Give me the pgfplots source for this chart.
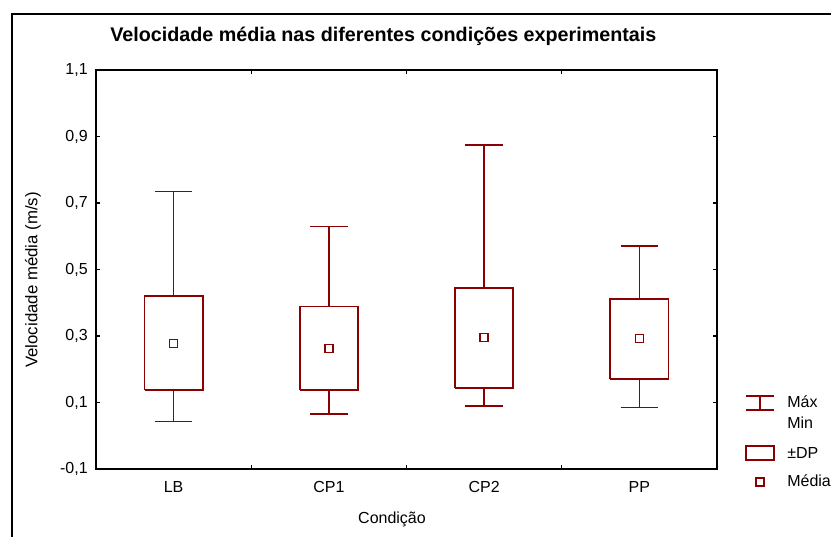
\documentclass[border=0pt]{standalone}
\usepackage{pgfplots}
\pgfplotsset{compat=1.18}
\usepackage{fontspec}
\setmainfont{Liberation Sans}
\definecolor{dred}{RGB}{139,0,0}
\begin{document}
\begin{tikzpicture}[x=0.75pt,y=0.75pt]
\useasboundingbox (0,0) rectangle (831,536);
\draw[line width=1.5pt] (12,-2) -- (12,522) -- (833,522);
\begin{axis}[
  at={(72pt,50.25pt)}, anchor=south west,
  scale only axis, width=465.75pt, height=299.25pt,
  xmin=-0.5, xmax=3.5, ymin=-0.1, ymax=1.1,
  axis line style={line width=0.9pt},
  tick style={black, line width=0.8pt},
  tick align=inside, major tick length=3pt,
  tick pos=both,
  unbounded coords=jump,
  xtick={0.5,1.5,2.5}, xticklabels={},
  extra x ticks={0,1,2,3},
  extra x tick labels={LB,CP1,CP2,PP},
  extra x tick style={major tick length=0pt, tick pos=bottom},
  ytick={-0.1,0.1,0.3,0.5,0.7,0.9,1.1},
  yticklabels={{-0,1},{0,1},{0,3},{0,5},{0,7},{0,9},{1,1}},
  ticklabel style={font=\fontsize{12}{14}\selectfont},
  yticklabel style={inner sep=0pt, xshift=-6pt},
  xticklabel style={inner sep=0pt, yshift=-9pt},
]
% whiskers (max/min)
\addplot[dred, line width=1.2pt, mark=none] coordinates {
 (-0.12,0.735) (0.12,0.735) (0,nan) (0,0.735) (0,0.421) (0,nan) (0,0.138) (0,0.043) (0,nan) (-0.12,0.043) (0.12,0.043) (0,nan)
 (0.88,0.629) (1.12,0.629) (1,nan) (1,0.629) (1,0.389) (1,nan) (1,0.138) (1,0.066) (1,nan) (0.88,0.066) (1.12,0.066) (1,nan)
 (1.88,0.874) (2.12,0.874) (2,nan) (2,0.874) (2,0.444) (2,nan) (2,0.143) (2,0.090) (2,nan) (1.88,0.090) (2.12,0.090) (2,nan)
 (2.88,0.571) (3.12,0.571) (3,nan) (3,0.571) (3,0.411) (3,nan) (3,0.171) (3,0.085) (3,nan) (2.88,0.085) (3.12,0.085)
};
% boxes (+-SD)
\addplot[dred, line width=1.2pt, mark=none, line join=miter] coordinates {
 (-0.1875,0.138) (0.1875,0.138) (0.1875,0.421) (-0.1875,0.421) (-0.1875,0.138) (0,nan)
 (0.8125,0.138) (1.1875,0.138) (1.1875,0.389) (0.8125,0.389) (0.8125,0.138) (1,nan)
 (1.8125,0.143) (2.1875,0.143) (2.1875,0.444) (1.8125,0.444) (1.8125,0.143) (2,nan)
 (2.8125,0.171) (3.1875,0.171) (3.1875,0.411) (2.8125,0.411) (2.8125,0.171)
};
% means
\addplot[only marks, mark=square, mark size=3pt, dred, line width=1.1pt] coordinates {(0,0.277) (1,0.263) (2,0.296) (3,0.292)};
\end{axis}
% titles and labels
\node[anchor=west, inner sep=0pt, font=\bfseries\fontsize{14.8}{17}\selectfont] at (110,500) {Velocidade média nas diferentes condições experimentais};
\node[rotate=90, inner sep=0pt, font=\fontsize{12.6}{14}\selectfont] at (33,256) {Velocidade média (m/s)};
\node[inner sep=0pt, font=\fontsize{12}{14}\selectfont] at (392,17) {Condição};
% legend
\begin{scope}[dred, line width=1.2pt]
\draw (746,140) -- (774,140) (760,140) -- (760,126) (746,126) -- (774,126);
\draw (746,76) rectangle (774,90);
\draw (756,50) rectangle (764,58);
\end{scope}
\begin{scope}[font=\fontsize{12}{14}\selectfont]
\node[anchor=west, inner sep=0pt] at (787,134) {Máx};
\node[anchor=west, inner sep=0pt] at (787,113) {Min};
\node[anchor=west, inner sep=0pt] at (787,83) {±DP};
\node[anchor=west, inner sep=0pt] at (787,55) {Média};
\end{scope}
\end{tikzpicture}
\end{document}
